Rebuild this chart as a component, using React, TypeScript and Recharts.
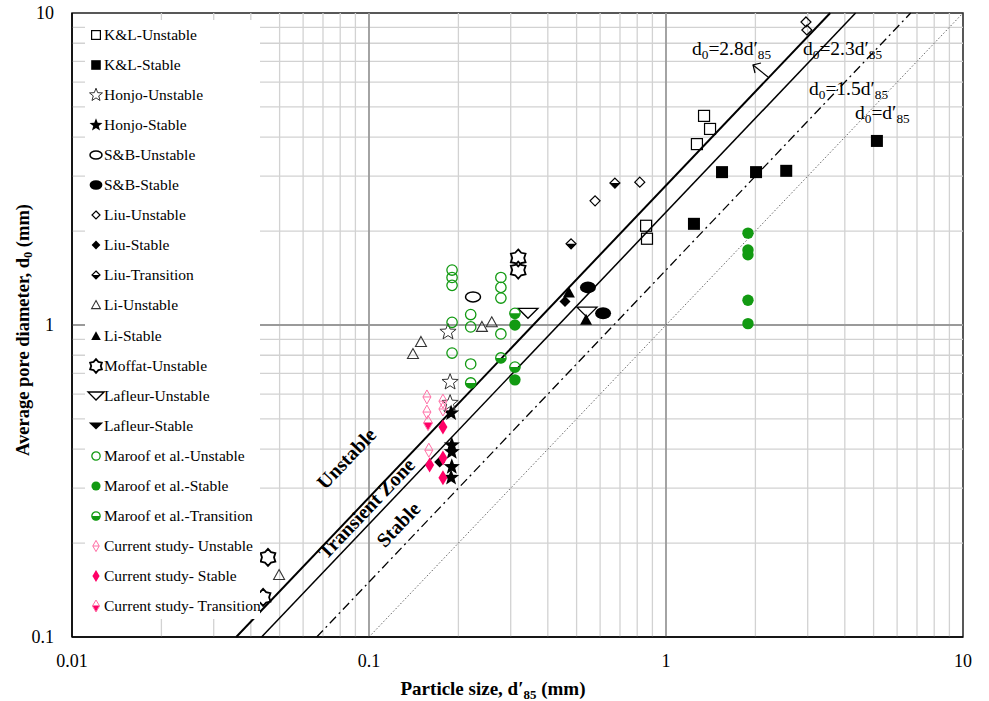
import React from "react"
import { ScatterChart, Scatter, XAxis, YAxis, ReferenceLine, ReferenceArea } from "recharts"

const FONT = "'Liberation Serif', 'Times New Roman', serif"
const GREEN = "#129a12"
const PINK = "#ff0066"
const PINK_LIGHT = "#ff6fa6"

const xTicks = [0.01, 0.1, 1, 10]
const yTicks = [0.1, 1, 10]
const xMinor = [0.02, 0.03, 0.04, 0.05, 0.06, 0.07, 0.08, 0.09, 0.2, 0.3, 0.4, 0.5, 0.6, 0.7, 0.8, 0.9, 2, 3, 4, 5, 6, 7, 8, 9]
const yMinor = [0.2, 0.3, 0.4, 0.5, 0.6, 0.7, 0.8, 0.9, 2, 3, 4, 5, 6, 7, 8, 9]
const xMajor = [0.1, 1]
const yMajor = [1]

// d0 = k * d'85 boundary lines
const ratios = [
  { k: 2.8, dash: undefined, width: 2, color: "#000" },
  { k: 2.3, dash: undefined, width: 1.5, color: "#000" },
  { k: 1.5, dash: "9 4 2 4", width: 1.3, color: "#000" },
  { k: 1, dash: "1.5 2", width: 0.9, color: "#555" },
]

const klUnstable = [
  { x: 1.343, y: 4.68 }, { x: 1.407, y: 4.25 }, { x: 1.271, y: 3.8 },
  { x: 0.857, y: 2.08 }, { x: 0.863, y: 1.89 },
]
const klStable = [
  { x: 1.544, y: 3.09 }, { x: 2.01, y: 3.09 }, { x: 2.54, y: 3.12 },
  { x: 5.13, y: 3.89 }, { x: 1.242, y: 2.11 },
]
const honjoUnstable = [{ x: 0.1845, y: 0.95 }, { x: 0.1875, y: 0.656 }, { x: 0.1875, y: 0.562 }]
const honjoStable = [
  { x: 0.189, y: 0.522 }, { x: 0.19, y: 0.412 }, { x: 0.19, y: 0.392 },
  { x: 0.19, y: 0.351 }, { x: 0.189, y: 0.324 },
]
const sbUnstable = [{ x: 0.224, y: 1.23 }]
const sbStable = [{ x: 0.546, y: 1.32 }, { x: 0.614, y: 1.09 }]
const liuUnstable = [{ x: 2.96, y: 9.36 }, { x: 2.98, y: 8.82 }, { x: 0.577, y: 2.5 }, { x: 0.816, y: 2.87 }]
const liuStable = [{ x: 0.457, y: 1.19 }, { x: 0.173, y: 0.364 }]
const liuTransition = [{ x: 0.673, y: 2.85 }, { x: 0.479, y: 1.82 }]
const liUnstable = [
  { x: 0.1406, y: 0.807 }, { x: 0.1496, y: 0.882 }, { x: 0.24, y: 0.986 },
  { x: 0.259, y: 1.02 }, { x: 0.0498, y: 0.158 },
]
const liStable = [{ x: 0.471, y: 1.27 }, { x: 0.538, y: 1.04 }]
const moffatUnstable = [{ x: 0.318, y: 1.64 }, { x: 0.318, y: 1.5 }, { x: 0.0457, y: 0.18 }, { x: 0.044, y: 0.134 }]
const lafleurUnstable = [{ x: 0.343, y: 1.09 }, { x: 0.542, y: 1.1 }]
const lafleurStable: { x: number; y: number }[] = []
const maroofUnstable = [
  { x: 0.1904, y: 1.5 }, { x: 0.1904, y: 1.42 }, { x: 0.1904, y: 1.34 }, { x: 0.1904, y: 1.02 },
  { x: 0.1904, y: 0.813 }, { x: 0.22, y: 1.08 }, { x: 0.22, y: 0.986 }, { x: 0.22, y: 0.75 },
  { x: 0.278, y: 1.42 }, { x: 0.278, y: 1.32 }, { x: 0.278, y: 1.22 }, { x: 0.278, y: 0.936 },
]
const maroofStable = [
  { x: 0.31, y: 1.0 }, { x: 0.31, y: 0.667 }, { x: 1.888, y: 1.97 }, { x: 1.888, y: 1.74 },
  { x: 1.888, y: 1.68 }, { x: 1.888, y: 1.2 }, { x: 1.888, y: 1.01 },
]
const maroofTransition = [{ x: 0.22, y: 0.652 }, { x: 0.278, y: 0.784 }, { x: 0.31, y: 0.733 }, { x: 0.31, y: 1.09 }]
const currentUnstable = [
  { x: 0.1567, y: 0.588 }, { x: 0.1567, y: 0.526 }, { x: 0.1774, y: 0.57 },
  { x: 0.1774, y: 0.538 }, { x: 0.159, y: 0.397 },
]
const currentStable = [{ x: 0.1774, y: 0.471 }, { x: 0.16, y: 0.356 }, { x: 0.1774, y: 0.375 }, { x: 0.1774, y: 0.324 }]
const currentTransition = [{ x: 0.158, y: 0.485 }]

type Kind =
  | "sqOpen" | "sqFill" | "starOpen" | "starFill" | "ellOpen" | "ellFill"
  | "diaOpen" | "diaFill" | "diaHalf" | "triOpen" | "triFill" | "hexOpen"
  | "downOpen" | "downFill" | "cirOpen" | "cirFill" | "cirHalf"
  | "pinkOpen" | "pinkFill" | "pinkHalf"

const series: { name: string; data: { x: number; y: number }[]; kind: Kind }[] = [
  { name: "K&L-Unstable", data: klUnstable, kind: "sqOpen" },
  { name: "K&L-Stable", data: klStable, kind: "sqFill" },
  { name: "Honjo-Unstable", data: honjoUnstable, kind: "starOpen" },
  { name: "Honjo-Stable", data: honjoStable, kind: "starFill" },
  { name: "S&B-Unstable", data: sbUnstable, kind: "ellOpen" },
  { name: "S&B-Stable", data: sbStable, kind: "ellFill" },
  { name: "Liu-Unstable", data: liuUnstable, kind: "diaOpen" },
  { name: "Liu-Stable", data: liuStable, kind: "diaFill" },
  { name: "Liu-Transition", data: liuTransition, kind: "diaHalf" },
  { name: "Li-Unstable", data: liUnstable, kind: "triOpen" },
  { name: "Li-Stable", data: liStable, kind: "triFill" },
  { name: "Moffat-Unstable", data: moffatUnstable, kind: "hexOpen" },
  { name: "Lafleur-Unstable", data: lafleurUnstable, kind: "downOpen" },
  { name: "Lafleur-Stable", data: lafleurStable, kind: "downFill" },
  { name: "Maroof et al.-Unstable", data: maroofUnstable, kind: "cirOpen" },
  { name: "Maroof et al.-Stable", data: maroofStable, kind: "cirFill" },
  { name: "Maroof et al.-Transition", data: maroofTransition, kind: "cirHalf" },
  { name: "Current study- Unstable", data: currentUnstable, kind: "pinkOpen" },
  { name: "Current study- Stable", data: currentStable, kind: "pinkFill" },
  { name: "Current study- Transition", data: currentTransition, kind: "pinkHalf" },
]

function starPts(cx: number, cy: number, R: number, r: number, n: number) {
  const pts: string[] = []
  for (let i = 0; i < n * 2; i++) {
    const a = -Math.PI / 2 + (i * Math.PI) / n
    const rad = i % 2 === 0 ? R : r
    pts.push(`${cx + rad * Math.cos(a)},${cy + rad * Math.sin(a)}`)
  }
  return pts.join(" ")
}

function diamond(cx: number, cy: number, w: number, h: number) {
  return `${cx},${cy - h} ${cx + w},${cy} ${cx},${cy + h} ${cx - w},${cy}`
}

function Marker({ kind, cx, cy, s = 1 }: { kind: Kind; cx: number; cy: number; s?: number }) {
  if (cx == null || cy == null) return null
  switch (kind) {
    case "sqOpen":
      return <rect x={cx - 5.5 * s} y={cy - 5.5 * s} width={11 * s} height={11 * s} fill="none" stroke="#000" strokeWidth={1.2} />
    case "sqFill":
      return <rect x={cx - 6 * s} y={cy - 6 * s} width={12 * s} height={12 * s} fill="#000" />
    case "starOpen":
      return <polygon points={starPts(cx, cy, 8.5 * s, 3.6 * s, 5)} fill="none" stroke="#333" strokeWidth={1} />
    case "starFill":
      return <polygon points={starPts(cx, cy, 8.5 * s, 3.6 * s, 5)} fill="#000" />
    case "ellOpen":
      return <ellipse cx={cx} cy={cy} rx={7.5 * s} ry={5 * s} fill="none" stroke="#000" strokeWidth={1.5} />
    case "ellFill":
      return <ellipse cx={cx} cy={cy} rx={8 * s} ry={6 * s} fill="#000" />
    case "diaOpen":
      return <polygon points={diamond(cx, cy, 5 * s, 5 * s)} fill="none" stroke="#000" strokeWidth={1.2} />
    case "diaFill":
      return <polygon points={diamond(cx, cy, 5.5 * s, 5.5 * s)} fill="#000" />
    case "diaHalf":
      return (
        <g>
          <polygon points={`${cx - 5 * s},${cy} ${cx + 5 * s},${cy} ${cx},${cy + 5 * s}`} fill="#000" />
          <polygon points={diamond(cx, cy, 5 * s, 5 * s)} fill="none" stroke="#000" strokeWidth={1.2} />
        </g>
      )
    case "triOpen":
      return <polygon points={`${cx},${cy - 5.5 * s} ${cx + 5.5 * s},${cy + 4.5 * s} ${cx - 5.5 * s},${cy + 4.5 * s}`} fill="none" stroke="#333" strokeWidth={1.1} />
    case "triFill":
      return <polygon points={`${cx},${cy - 6 * s} ${cx + 6 * s},${cy + 5 * s} ${cx - 6 * s},${cy + 5 * s}`} fill="#000" />
    case "hexOpen":
      return <polygon points={starPts(cx, cy, 8.5 * s, 6 * s, 6)} fill="none" stroke="#000" strokeWidth={1.8} />
    case "downOpen":
      return <polygon points={`${cx - 10 * s},${cy - 5 * s} ${cx + 10 * s},${cy - 5 * s} ${cx},${cy + 5 * s}`} fill="none" stroke="#000" strokeWidth={1.3} />
    case "downFill":
      return <polygon points={`${cx - 9 * s},${cy - 4.5 * s} ${cx + 9 * s},${cy - 4.5 * s} ${cx},${cy + 4.5 * s}`} fill="#000" />
    case "cirOpen":
      return <circle cx={cx} cy={cy} r={5.2 * s} fill="none" stroke={GREEN} strokeWidth={1.3} />
    case "cirFill":
      return <circle cx={cx} cy={cy} r={5.7 * s} fill={GREEN} />
    case "cirHalf":
      return (
        <g>
          <path d={`M${cx - 5.2 * s},${cy} A${5.2 * s},${5.2 * s} 0 0 0 ${cx + 5.2 * s},${cy} Z`} fill={GREEN} />
          <circle cx={cx} cy={cy} r={5.2 * s} fill="none" stroke={GREEN} strokeWidth={1.3} />
        </g>
      )
    case "pinkOpen":
      return (
        <g>
          <polygon points={diamond(cx, cy, 4 * s, 7 * s)} fill="none" stroke={PINK_LIGHT} strokeWidth={1} />
          <line x1={cx - 4 * s} y1={cy} x2={cx + 4 * s} y2={cy} stroke={PINK_LIGHT} strokeWidth={1} />
        </g>
      )
    case "pinkFill":
      return <polygon points={diamond(cx, cy, 4.5 * s, 7.5 * s)} fill={PINK} />
    case "pinkHalf":
      return (
        <g>
          <polygon points={`${cx - 4.5 * s},${cy - 0.5} ${cx + 4.5 * s},${cy - 0.5} ${cx},${cy + 7.5 * s}`} fill={PINK} />
          <polygon points={diamond(cx, cy, 4.5 * s, 7.5 * s)} fill="none" stroke={PINK_LIGHT} strokeWidth={1} />
        </g>
      )
  }
  return null
}

function LegendBox() {
  return (
    <div
      style={{
        position: "absolute", left: 85, top: 20, width: 175, height: 599,
        background: "#fff", fontFamily: FONT, fontSize: 15.5, color: "#000",
      }}
    >
      {series.map((s, i) => (
        <div key={s.name} style={{ position: "absolute", left: 0, top: 15 + i * 30.05 - 10, height: 20, display: "flex", alignItems: "center", whiteSpace: "nowrap" }}>
          <svg width={20} height={20} style={{ flex: "none" }}>
            <Marker kind={s.kind} cx={11} cy={10} s={0.8} />
          </svg>
          <span style={{ marginLeft: -1 }}>{s.name}</span>
        </div>
      ))}
    </div>
  )
}

function Sub({ children }: { children: React.ReactNode }) {
  return (
    <tspan fontSize="0.68em" dy={4}>
      {children}
    </tspan>
  )
}

function Overlay() {
  const ang = -46.4
  return (
    <svg width={989} height={701} style={{ position: "absolute", left: 0, top: 0, pointerEvents: "none" }} fontFamily={FONT}>
      <text x={692} y={55} fontSize={19.5}>
        d<Sub>0</Sub><tspan dy={-4}>=2.8d′</tspan><Sub>85</Sub>
      </text>
      <text x={803} y={55} fontSize={19.5}>
        d<Sub>0</Sub><tspan dy={-4}>=2.3d′</tspan><Sub>85</Sub>
      </text>
      <text x={809} y={95} fontSize={19.5}>
        d<Sub>0</Sub><tspan dy={-4}>=1.5d′</tspan><Sub>85</Sub>
      </text>
      <text x={855} y={119} fontSize={19.5}>
        d<Sub>0</Sub><tspan dy={-4}>=d′</tspan><Sub>85</Sub>
      </text>
      <polyline points="768,77 753,65" fill="none" stroke="#000" strokeWidth={1.2} />
      <polyline points="761,63 753,65 755,73" fill="none" stroke="#000" strokeWidth={1.2} />
      <text x={348} y={460} fontSize={20} fontWeight="bold" textAnchor="middle" dominantBaseline="middle" transform={`rotate(${ang} 348 460)`}>
        Unstable
      </text>
      <text x={368} y={510} fontSize={20} fontWeight="bold" textAnchor="middle" dominantBaseline="middle" transform={`rotate(${ang} 368 510)`}>
        Transient Zone
      </text>
      <text x={400} y={526} fontSize={20} fontWeight="bold" textAnchor="middle" dominantBaseline="middle" transform={`rotate(${ang} 400 526)`}>
        Stable
      </text>
      <text x={493} y={695} fontSize={19} fontWeight="bold" textAnchor="middle">
        Particle size, d′<Sub>85</Sub><tspan dy={-4}> (mm)</tspan>
      </text>
      <text x={25} y={330} fontSize={18.5} fontWeight="bold" textAnchor="middle" dominantBaseline="middle" transform="rotate(-90 25 330)">
        Average pore diameter, d<Sub>0</Sub><tspan dy={-4}> (mm)</tspan>
      </text>
    </svg>
  )
}

export default function App() {
  const tickStyle = { fontFamily: FONT, fontSize: 18, fill: "#000" }
  return (
    <div style={{ position: "absolute", left: 0, top: 0, width: 989, height: 701, background: "#fff" }}>
      <ScatterChart width={989} height={701} margin={{ top: 13, right: 26, bottom: 0, left: 0 }}>
        <XAxis
          type="number" dataKey="x" scale="log" domain={[0.01, 10]} ticks={xTicks} allowDataOverflow
          height={64} tickLine={false} tickSize={0} tickMargin={17} tick={tickStyle}
          axisLine={{ stroke: "#000", strokeWidth: 1.5 }} tickFormatter={(v: number) => String(v)}
        />
        <YAxis
          type="number" dataKey="y" scale="log" domain={[0.1, 10]} ticks={yTicks} allowDataOverflow
          width={72} tickLine={false} tickSize={0} tickMargin={18} tick={tickStyle}
          axisLine={{ stroke: "#000", strokeWidth: 1.5 }} tickFormatter={(v: number) => String(v)}
        />
        {xMinor.map((v) => (
          <ReferenceLine key={`xm${v}`} x={v} stroke="#d2d2d2" strokeWidth={1.3} />
        ))}
        {yMinor.map((v) => (
          <ReferenceLine key={`ym${v}`} y={v} stroke="#d2d2d2" strokeWidth={1.3} />
        ))}
        {xMajor.map((v) => (
          <ReferenceLine key={`xM${v}`} x={v} stroke="#9a9a9a" strokeWidth={1.8} />
        ))}
        {yMajor.map((v) => (
          <ReferenceLine key={`yM${v}`} y={v} stroke="#9a9a9a" strokeWidth={1.8} />
        ))}
        <ReferenceArea x1={0.01} x2={10} y1={0.1} y2={10} fill="none" stroke="#222" strokeWidth={1.5} />
        {ratios.map((r) => (
          <ReferenceLine
            key={`k${r.k}`}
            segment={[{ x: 0.1 / r.k, y: 0.1 }, { x: 10 / r.k, y: 10 }]}
            stroke={r.color} strokeWidth={r.width} strokeDasharray={r.dash}
          />
        ))}
        {series.map((s) => (
          <Scatter
            key={s.name} name={s.name} data={s.data} isAnimationActive={false}
            shape={(p: any) => <Marker kind={s.kind} cx={p.cx} cy={p.cy} />}
          />
        ))}
      </ScatterChart>
      <LegendBox />
      <Overlay />
    </div>
  )
}
